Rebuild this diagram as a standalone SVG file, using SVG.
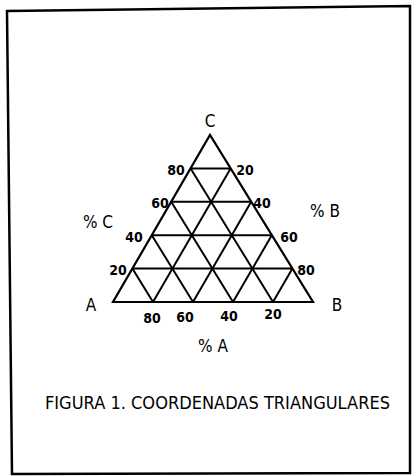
<svg xmlns="http://www.w3.org/2000/svg" width="412" height="476" viewBox="0 0 412 476">
<style>
.frame{fill:none;stroke:#000;stroke-width:2.5}
.tri{fill:none;stroke:#000;stroke-width:2.2;stroke-linejoin:miter}
.grid{fill:none;stroke:#000;stroke-width:2}
.num{font-family:"Liberation Sans Narrow","DejaVu Sans Condensed","Liberation Sans",sans-serif;font-weight:bold;font-size:14px;fill:#000}
.lbl{font-family:"Liberation Sans Narrow","DejaVu Sans Condensed","Liberation Sans",sans-serif;font-size:17px;fill:#000}
.cap{font-family:"Liberation Sans Narrow","DejaVu Sans Condensed","Liberation Sans",sans-serif;font-size:18px;fill:#000}
</style>
<rect width="412" height="476" fill="#fff"/>
<path class="frame" d="M7,11 L410,6 L410,473 L12,474 Z"/>
<g id="triangle">
<polygon class="tri" points="113,302 313,302 210,135"/>
</g>
<g id="grid">
<line class="grid" x1="132.4" y1="268.6" x2="292.4" y2="268.6"/>
<line class="grid" x1="151.8" y1="235.2" x2="271.8" y2="235.2"/>
<line class="grid" x1="171.2" y1="201.8" x2="251.2" y2="201.8"/>
<line class="grid" x1="190.6" y1="168.4" x2="230.6" y2="168.4"/>
<line class="grid" x1="153" y1="302" x2="230.6" y2="168.4"/>
<line class="grid" x1="193" y1="302" x2="251.2" y2="201.8"/>
<line class="grid" x1="233" y1="302" x2="271.8" y2="235.2"/>
<line class="grid" x1="273" y1="302" x2="292.4" y2="268.6"/>
<line class="grid" x1="273" y1="302" x2="190.6" y2="168.4"/>
<line class="grid" x1="233" y1="302" x2="171.2" y2="201.8"/>
<line class="grid" x1="193" y1="302" x2="151.8" y2="235.2"/>
<line class="grid" x1="153" y1="302" x2="132.4" y2="268.6"/>
</g>
<g id="vertex-labels">
<text class="lbl" x="210" y="127" text-anchor="middle">C</text>
<text class="lbl" x="91" y="311" text-anchor="middle">A</text>
<text class="lbl" x="337" y="311" text-anchor="middle">B</text>
</g>
<g id="axis-labels">
<text class="lbl" x="98" y="228" text-anchor="middle">% C</text>
<text class="lbl" x="325" y="217" text-anchor="middle">% B</text>
<text class="lbl" x="213" y="352" text-anchor="middle">% A</text>
</g>
<g id="left-ticks">
<text class="num" x="176" y="175" text-anchor="middle">80</text>
<text class="num" x="160" y="208" text-anchor="middle">60</text>
<text class="num" x="134" y="242" text-anchor="middle">40</text>
<text class="num" x="118" y="275" text-anchor="middle">20</text>
</g>
<g id="right-ticks">
<text class="num" x="245" y="175" text-anchor="middle">20</text>
<text class="num" x="262" y="208" text-anchor="middle">40</text>
<text class="num" x="289" y="242" text-anchor="middle">60</text>
<text class="num" x="306" y="275" text-anchor="middle">80</text>
</g>
<g id="bottom-ticks">
<text class="num" x="152" y="323" text-anchor="middle">80</text>
<text class="num" x="185" y="322" text-anchor="middle">60</text>
<text class="num" x="229" y="321" text-anchor="middle">40</text>
<text class="num" x="273" y="319" text-anchor="middle">20</text>
</g>
<g id="caption">
<text class="cap" x="45" y="409" textLength="345" lengthAdjust="spacingAndGlyphs">FIGURA 1. COORDENADAS TRIANGULARES</text>
</g>
</svg>
